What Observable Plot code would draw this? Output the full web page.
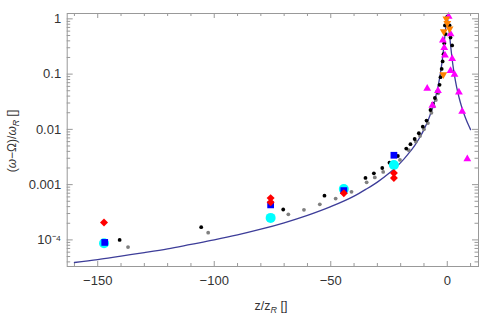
<!DOCTYPE html>
<html><head><meta charset="utf-8">
<script src="https://cdn.jsdelivr.net/npm/d3@7"></script>
<script src="https://cdn.jsdelivr.net/npm/@observablehq/plot@0.6"></script>
<style>body{margin:0;background:#fff} svg{display:block}</style>
</head><body><div id="chart"></div>
<script>
// Theory curve
const curveZ = [-160,-150,-140,-130,-120,-110,-100,-90,-80,-70,-60,-50,-40,-35,-30,-25,-20,-17,-14,-12,-10,-8,-6,-5,-4,-3,-2.5,-2,-1.5,-1,-0.6,-0.3,0,0.3,0.6,1,1.5,2,2.5,3,4,5,6,7,8,9,10];
const curveV = [3.9e-5,4.4e-5,5.1e-5,5.9e-5,6.9e-5,8.3e-5,1.0e-4,1.23e-4,1.56e-4,2.04e-4,2.78e-4,4.0e-4,6.2e-4,8.2e-4,1.11e-3,1.6e-3,2.5e-3,3.5e-3,5.1e-3,6.9e-3,9.9e-3,0.0154,0.027,0.0385,0.0588,0.1,0.138,0.2,0.31,0.5,0.735,0.917,1,0.917,0.735,0.5,0.31,0.2,0.138,0.1,0.0588,0.0385,0.027,0.02,0.0154,0.0122,0.0099];
// Black dots
const blackZ = [-140.6,-105.6,-70.4,-52.7,-35.1,-31.5,-27.9,-24.8,-21.2,-17.6,-15.8,-14.0,-12.2,-10.5,-8.9,-7.2,-6.2,-5.3,-4.3,-3.3,-2.9,-2.4,-2.0,-1.6,-1.3,-0.7,-1.0,0,1.0,1.4,2.1];
const blackV = [1.0e-4,1.7e-4,3.55e-4,6.3e-4,1.32e-3,1.6e-3,2.0e-3,2.5e-3,3.3e-3,4.5e-3,5.4e-3,6.7e-3,8.5e-3,0.0112,0.0144,0.0224,0.029,0.037,0.048,0.064,0.088,0.124,0.17,0.23,0.36,0.53,0.76,1.1,0.76,0.46,0.33];
// Gray dots
const grayZ = [-137,-102.6,-68.2,-61.5,-54.7,-47.9,-41.1,-34.6,-31.1,-27.5,-20.3,-16.5,-13.5,-11.7,-10.0,-8.3,-6.8,-5.8,-4.9,-3.9];
const grayV = [7.4e-5,1.35e-4,2.9e-4,3.5e-4,4.4e-4,5.6e-4,7.4e-4,1.1e-3,1.35e-3,1.7e-3,2.8e-3,4.2e-3,6.0e-3,7.6e-3,0.0100,0.0130,0.020,0.026,0.034,0.045];
// Red diamonds
const redZ = [-147.3,-75.8,-75.8,-44.4,-22.9,-22.9];
const redV = [2.06e-4,5.7e-4,4.8e-4,7.0e-4,1.62e-3,1.32e-3];
// Blue squares
const blueZ = [-147.0,-75.8,-44.4,-22.9];
const blueV = [9.0e-5,4.3e-4,7.8e-4,3.4e-3];
// Cyan circles
const cyanZ = [-147.3,-75.8,-44.4,-22.9];
const cyanV = [8.7e-5,2.5e-4,8.3e-4,2.26e-3];
// Magenta triangles
const magZ = [-8.6,-4.0,-6.4,6.4,5.0,3.1,1.4,2.1,1.4,-1.9,-1.3,-1.0,0.6,8.6];
const magV = [0.055,0.050,0.027,0.021,0.047,0.098,0.115,0.19,0.53,0.41,0.30,0.22,1.1,0.0029];
// Orange down triangles
const orZ = [-0.4,0,-1.5,1.0,-1.7];
const orV = [1.0,0.83,0.59,0.66,0.098];

// Ticks
const xMajor = [-150,-100,-50,0];
const xMinor = [-160,-140,-130,-120,-110,-90,-80,-70,-60,-40,-30,-20,-10,10];
const yMajor = [1e-4,1e-3,1e-2,1e-1,1];
const yMinor = [4e-5,5e-5,6e-5,7e-5,8e-5,9e-5,2e-4,3e-4,4e-4,5e-4,6e-4,7e-4,8e-4,9e-4,2e-3,3e-3,4e-3,5e-3,6e-3,7e-3,8e-3,9e-3,0.02,0.03,0.04,0.05,0.06,0.07,0.08,0.09,0.2,0.3,0.4,0.5,0.6,0.7,0.8,0.9];
const yLabels = ["10⁻⁴","0.001","0.01","0.1","1"];

const rows = (zs, vs) => zs.map((z, i) => ({z, v: vs[i]}));

const W = 491, H = 316, mL = 66.7, mR = 13, mT = 13, mB = 50;
const innerW = W - mL - mR, innerH = H - mT - mB;
const frameCol = "#999";

const chart = Plot.plot({
  width: W, height: H,
  marginLeft: mL, marginRight: mR, marginTop: mT, marginBottom: mB,
  style: {fontFamily: "'Liberation Sans', Arial, sans-serif", background: "white", color: "#333"},
  x: {domain: [-163.1, 13.4], axis: null},
  y: {type: "log", domain: [3.3e-5, 1.25], axis: null},
  marks: [
    Plot.axisX(xMajor, {anchor: "bottom", tickSize: 0, tickPadding: 9, fontSize: 13, label: null}),
    Plot.axisY(yMajor, {anchor: "left", tickSize: 0, tickPadding: 6, fontSize: 13, label: null,
      tickFormat: d => yLabels[yMajor.indexOf(d)]}),
    Plot.tickX(xMajor, {x: d => d, insetTop: innerH - 5, stroke: frameCol}),
    Plot.tickX(xMajor, {x: d => d, insetBottom: innerH - 5, stroke: frameCol}),
    Plot.tickX(xMinor, {x: d => d, insetTop: innerH - 3, stroke: frameCol}),
    Plot.tickX(xMinor, {x: d => d, insetBottom: innerH - 3, stroke: frameCol}),
    Plot.tickY(yMajor, {y: d => d, insetRight: innerW - 6, stroke: frameCol}),
    Plot.tickY(yMajor, {y: d => d, insetLeft: innerW - 6, stroke: frameCol}),
    Plot.tickY(yMinor, {y: d => d, insetRight: innerW - 3.5, stroke: frameCol}),
    Plot.tickY(yMinor, {y: d => d, insetLeft: innerW - 3.5, stroke: frameCol}),
    Plot.line(rows(curveZ, curveV), {x: "z", y: "v", stroke: "#3d3d99", strokeWidth: 1.3, curve: "monotone-x"}),
    Plot.dot(rows(grayZ, grayV), {x: "z", y: "v", r: 1.9, fill: "#808080"}),
    Plot.dot(rows(blackZ, blackV), {x: "z", y: "v", r: 1.9, fill: "#000"}),
    Plot.dot(rows(cyanZ, cyanV), {x: "z", y: "v", r: 5, fill: "#00ffff"}),
    Plot.dot(rows(blueZ, blueV), {x: "z", y: "v", r: 3.8, symbol: "square", fill: "#0000ff"}),
    Plot.dot(rows(redZ, redV), {x: "z", y: "v", r: 3.6, symbol: "diamond2", fill: "#ff0000"}),
    Plot.dot(rows(magZ, magV), {x: "z", y: "v", r: 2.9, symbol: "triangle", fill: "#ff00ff"}),
    Plot.dot(rows(orZ, orV), {x: "z", y: "v", r: 2.9, symbol: "triangle", rotate: 180, fill: "#ff8000"}),
    Plot.frame({stroke: frameCol})
  ]
});

document.getElementById("chart").appendChild(chart);

// Axis titles with subscripts
const svg = d3.select(chart);
const ff = "'Liberation Sans', Arial, sans-serif";
const xl = svg.append("text").attr("x", 271).attr("y", 310).attr("text-anchor", "middle")
  .attr("font-family", ff).attr("font-size", 12.5).attr("fill", "#333");
xl.append("tspan").text("z/z");
xl.append("tspan").attr("dy", 3).attr("font-size", 9).attr("font-style", "italic").text("R");
xl.append("tspan").attr("dy", -3).text(" []");

const yl = svg.append("text").attr("transform", "translate(16,141) rotate(-90)").attr("text-anchor", "middle")
  .attr("font-family", ff).attr("font-size", 12).attr("fill", "#333");
yl.append("tspan").text("(");
yl.append("tspan").attr("font-style", "italic").text("ω");
yl.append("tspan").text("−Ω)/");
yl.append("tspan").attr("font-style", "italic").text("ω");
yl.append("tspan").attr("dy", 3).attr("font-size", 9).attr("font-style", "italic").text("R");
yl.append("tspan").attr("dy", -3).text(" []");
</script>
</body></html>
